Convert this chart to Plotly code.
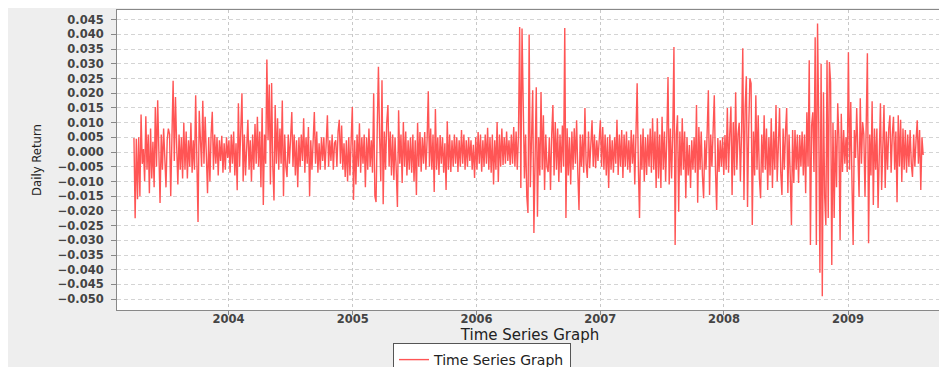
import pandas as pd
import plotly.graph_objects as go

# Sampling of the series (regular spacing)
START = "2003-03-28"
STEP = "84h"

# Daily return values, grouped by year segment
r2003 = [
    0.0048, -0.0225, 0.0045, -0.0160, 0.0050, -0.0150, 0.0128, -0.0040, 0.0010, -0.0100,
    0.0122, -0.0060, 0.0060, -0.0140, 0.0080, -0.0090, 0.0035, -0.0120, 0.0153, -0.0050,
    0.0176, -0.0080, -0.0173, 0.0060, -0.0060, 0.0080, -0.0050, -0.0120, 0.0040, 0.0080,
    0.0060, -0.0150, 0.0050, 0.0242, -0.0030, 0.0187, 0.0020, -0.0110, 0.0060, -0.0060,
    0.0050, -0.0090, 0.0100, -0.0060, 0.0070, -0.0090, 0.0040, -0.0050, 0.0100, -0.0070,
    0.0040, -0.0060, 0.0193, 0.0030, -0.0238, 0.0140, 0.0020, -0.0050, 0.0174, -0.0040,
    0.0120, -0.0060, -0.0140, 0.0050, -0.0100, 0.0060, 0.0137, -0.0060, 0.0060, -0.0040,
    0.0050, -0.0080, 0.0040, -0.0030, 0.0055, -0.0070, 0.0030, -0.0060, 0.0050, -0.0020,
]
r2004 = [
    0.0040, -0.0070, 0.0060, -0.0040, 0.0070, -0.0080, 0.0030, -0.0130, 0.0166, -0.0050,
    0.0050, 0.0200, -0.0100, 0.0060, -0.0080, 0.0050, 0.0110, -0.0060, 0.0040, -0.0100,
    0.0060, -0.0060, 0.0095, -0.0040, 0.0120, -0.0050, 0.0070, -0.0120, 0.0150, -0.0180,
    0.0060, -0.0040, 0.0315, 0.0040, 0.0230, -0.0110, 0.0235, -0.0050, -0.0165, 0.0160,
    -0.0040, 0.0115, -0.0060, 0.0080, -0.0040, 0.0175, -0.0150, 0.0060, -0.0050, -0.0085,
    0.0060, -0.0040, 0.0080, 0.0136, -0.0050, 0.0060, -0.0080, 0.0040, -0.0120, 0.0050,
    -0.0050, 0.0060, -0.0030, 0.0115, -0.0070, 0.0050, -0.0040, 0.0085, -0.0150, 0.0040,
    -0.0060, 0.0040, 0.0136, -0.0040, 0.0070, -0.0070, 0.0030, -0.0060, 0.0050, -0.0030,
    0.0050, -0.0060, 0.0040, 0.0125, -0.0050, 0.0040, -0.0030, 0.0060, -0.0060, 0.0030,
    0.0040, -0.0050, 0.0070, 0.0110, -0.0040, 0.0090, -0.0060, 0.0030, -0.0085, 0.0040,
    -0.0100, 0.0050, -0.0080, 0.0020,
]
r2005 = [
    0.0153, -0.0163, 0.0040, -0.0110, 0.0060, -0.0050, 0.0098, -0.0070, 0.0050, -0.0040,
    0.0060, -0.0120, 0.0050, -0.0060, 0.0080, -0.0050, 0.0040, -0.0070, 0.0200, -0.0150,
    -0.0170, 0.0080, 0.0290, 0.0050, -0.0100, 0.0244, -0.0177, 0.0070, -0.0060, 0.0100,
    0.0160, -0.0050, 0.0070, -0.0080, 0.0060, -0.0095, 0.0050, -0.0060, -0.0187, 0.0142,
    -0.0040, 0.0060, -0.0105, 0.0102, -0.0050, 0.0070, -0.0080, 0.0040, -0.0060, 0.0050,
    -0.0070, 0.0060, -0.0100, 0.0040, -0.0146, 0.0100, -0.0050, 0.0068, -0.0067, 0.0050,
    -0.0040, 0.0068, -0.0060, 0.0040, 0.0207, -0.0050, 0.0080, -0.0060, 0.0060, -0.0136,
    0.0146, -0.0060, 0.0050, -0.0078, 0.0058, -0.0040, 0.0050, -0.0070, 0.0030, -0.0129,
    0.0105, -0.0060, 0.0060, -0.0068, 0.0040, -0.0050, 0.0060, -0.0040, 0.0050, -0.0068,
    0.0040, -0.0050, 0.0075, -0.0040, 0.0060, -0.0060, 0.0040, -0.0050, 0.0050, -0.0030,
    0.0040, -0.0060, 0.0025, -0.0088,
]
r2006 = [
    0.0050, -0.0060, 0.0068, -0.0040, 0.0060, -0.0067, 0.0040, -0.0050, 0.0060, -0.0040,
    0.0083, -0.0060, 0.0050, -0.0070, 0.0060, -0.0110, 0.0040, -0.0060, 0.0102, -0.0102,
    0.0060, -0.0050, 0.0080, -0.0044, 0.0050, -0.0040, 0.0070, -0.0030, 0.0040, -0.0044,
    0.0060, -0.0040, 0.0085, -0.0050, 0.0070, -0.0060, 0.0060, 0.0425, -0.0122, 0.0420,
    0.0135, -0.0090, 0.0060, -0.0150, -0.0207, 0.0400, -0.0120, 0.0100, 0.0210, -0.0275,
    0.0060, 0.0220, -0.0220, 0.0050, -0.0080, 0.0204, -0.0060, 0.0125, -0.0129, 0.0060,
    -0.0050, -0.0068, 0.0050, -0.0129, 0.0060, 0.0160, -0.0080, 0.0102, -0.0060, 0.0080,
    -0.0102, 0.0060, -0.0070, 0.0090, -0.0050, 0.0422, -0.0224, 0.0081, -0.0080, 0.0050,
    -0.0110, 0.0070, -0.0060, 0.0081, -0.0040, 0.0108, -0.0070, -0.0197, 0.0060, -0.0050,
    0.0060, -0.0070, 0.0150, -0.0040, -0.0088, 0.0070, -0.0055, 0.0060, 0.0108, -0.0050,
    0.0060, -0.0055, 0.0040, -0.0030,
]
r2007 = [
    0.0050, 0.0108, -0.0050, 0.0085, -0.0060, 0.0060, -0.0080, 0.0050, -0.0122, 0.0060,
    -0.0060, 0.0040, -0.0070, 0.0050, -0.0040, 0.0110, -0.0078, 0.0060, -0.0050, 0.0075,
    -0.0088, 0.0060, -0.0050, 0.0070, -0.0060, 0.0040, -0.0070, 0.0075, -0.0040, 0.0060,
    -0.0110, 0.0060, 0.0234, -0.0050, -0.0224, 0.0060, -0.0060, 0.0080, -0.0100, 0.0050,
    -0.0078, 0.0060, -0.0050, 0.0080, -0.0070, 0.0115, -0.0060, 0.0070, -0.0122, 0.0115,
    -0.0090, 0.0060, -0.0122, 0.0120, -0.0060, 0.0070, -0.0100, 0.0050, 0.0255, -0.0110,
    0.0080, -0.0090, 0.0060, 0.0357, -0.0316, 0.0060, 0.0125, -0.0203, 0.0070, -0.0080,
    0.0115, -0.0060, 0.0070, -0.0157, 0.0050, -0.0080, 0.0024, -0.0122, 0.0040, -0.0060,
    0.0050, -0.0070, 0.0160, -0.0172, 0.0085, -0.0060, 0.0070, -0.0080, -0.0157, 0.0040,
    -0.0060, 0.0070, 0.0210, -0.0146, 0.0060, -0.0050, 0.0080, 0.0193, -0.0060, -0.0197,
    0.0048, -0.0068, 0.0040, -0.0050,
]
r2008 = [
    0.0050, -0.0078, 0.0058, -0.0060, 0.0150, -0.0070, 0.0060, 0.0155, -0.0146, 0.0102,
    -0.0080, 0.0203, -0.0060, 0.0060, 0.0100, -0.0100, 0.0070, 0.0353, -0.0163, 0.0150,
    0.0258, -0.0187, 0.0080, 0.0250, 0.0234, -0.0248, 0.0070, -0.0080, 0.0193, -0.0060,
    0.0125, -0.0090, -0.0157, 0.0060, -0.0070, 0.0125, -0.0060, 0.0080, -0.0129, 0.0050,
    -0.0080, 0.0115, -0.0122, 0.0070, -0.0060, 0.0160, -0.0100, 0.0060, 0.0150, -0.0070,
    -0.0146, 0.0080, -0.0060, 0.0070, 0.0150, -0.0139, 0.0060, -0.0080, -0.0248, 0.0075,
    -0.0105, 0.0075, -0.0060, 0.0060, -0.0105, 0.0058, -0.0050, 0.0070, -0.0080, 0.0060,
    -0.0140, 0.0135, -0.0050, 0.0312, -0.0316, 0.0090, 0.0135, -0.0068, 0.0390, -0.0316,
    0.0437, 0.0100, -0.0410, 0.0300, -0.0490, 0.0203, -0.0150, -0.0248, 0.0312, -0.0224,
    0.0306, 0.0237, -0.0384, 0.0100, -0.0224, 0.0075, -0.0120, 0.0166, 0.0050, -0.0299,
    0.0130, -0.0068, 0.0075, -0.0040,
]
r2009 = [
    0.0050, -0.0068, 0.0339, -0.0060, 0.0170, -0.0100, -0.0316, 0.0075, -0.0020, 0.0150,
    -0.0060, -0.0153, 0.0183, -0.0040, 0.0102, 0.0060, -0.0153, 0.0080, 0.0336, -0.0310,
    0.0060, -0.0080, 0.0173, -0.0180, 0.0080, -0.0060, 0.0080, -0.0190, 0.0050, 0.0166,
    -0.0129, 0.0060, 0.0160, -0.0122, 0.0070, -0.0060, 0.0080, 0.0125, -0.0070, 0.0060,
    0.0120, -0.0060, 0.0070, -0.0171, 0.0125, -0.0050, 0.0110, -0.0102, 0.0080, -0.0060,
    0.0075, -0.0070, 0.0060, -0.0050, 0.0075, -0.0040, -0.0085, 0.0060, -0.0050, 0.0040,
    0.0108, -0.0040, 0.0075, -0.0129, 0.0050, -0.0010,
]

returns = r2003 + r2004 + r2005 + r2006 + r2007 + r2008 + r2009
dates = pd.date_range(START, periods=len(returns), freq=STEP)

SERIES_NAME = "Time Series Graph"
X_TITLE = "Time Series Graph"
Y_TITLE = "Daily Return"

tick_font = dict(family="DejaVu Sans", size=11.5, color="#444444", weight="bold")
title_font = dict(family="DejaVu Sans", size=15, color="#222222")
legend_font = dict(family="DejaVu Sans", size=14, color="#222222")

fig = go.Figure(
    go.Scatter(
        x=dates, y=returns, mode="lines", name=SERIES_NAME,
        line=dict(color="#ff5555", width=1.4),
    )
)

fig.update_layout(
    template="none",
    width=939, height=390,
    paper_bgcolor="#eeeeee",
    plot_bgcolor="#ffffff",
    margin=dict(l=109, r=4, t=2, b=88, pad=0),
    showlegend=True,
    legend=dict(
        orientation="h", x=0.4419, xanchor="center", y=-0.11, yanchor="top",
        bgcolor="#ffffff", bordercolor="#555555", borderwidth=1,
        font=legend_font, itemwidth=30,
    ),
    xaxis=dict(
        type="date",
        range=["2003-02-06", "2009-10-08"],
        tick0="2004-01-01", dtick="M12", tickformat="%Y",
        ticks="outside", ticklen=4, tickcolor="#888888",
        tickfont=tick_font, ticklabelstandoff=-6,
        showgrid=True, gridcolor="#c8c8c8", griddash="dot", gridwidth=1,
        showline=True, linecolor="#888888", linewidth=1, mirror=True,
        zeroline=False, automargin=False,
        title=dict(text=X_TITLE, font=title_font, standoff=0),
    ),
    yaxis=dict(
        range=[-0.0537, 0.0483],
        tick0=0, dtick=0.005, tickformat=".3f",
        ticks="outside", ticklen=5, tickcolor="#888888",
        tickfont=tick_font, ticklabelstandoff=5,
        showgrid=True, gridcolor="#d4d4d4", griddash="4px,3px", gridwidth=1,
        showline=True, linecolor="#888888", linewidth=1, mirror=True,
        zeroline=False, automargin=False,
        title=dict(
            text=Y_TITLE, standoff=13,
            font=dict(family="Liberation Sans Narrow, DejaVu Sans Condensed, sans-serif",
                      size=13, color="#222222"),
        ),
    ),
)

fig.write_html("out.html")
